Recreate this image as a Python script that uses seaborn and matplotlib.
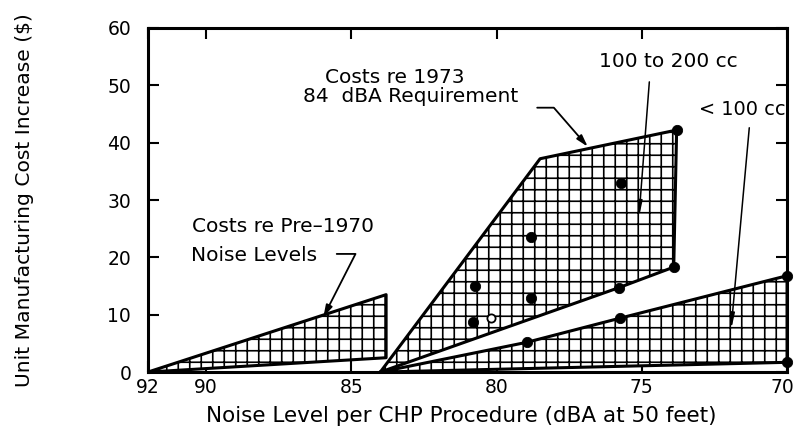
import matplotlib
matplotlib.use("Agg")
import matplotlib.pyplot as plt
import matplotlib.transforms as mtransforms
import pandas as pd
import seaborn as sns

# polygon outlines (noise level dBA, cost $)
pre1970_x = [92, 83.8, 83.8, 92]
pre1970_y = [0, 13.5, 2.5, 0]

cc100_200_x = [84, 78.5, 73.8, 73.9, 75.8, 84]
cc100_200_y = [0, 37.2, 42.2, 18.3, 14.7, 0]

cc100_x = [84, 78.95, 75.75, 70, 70, 84]
cc100_y = [0, 5.2, 9.4, 16.8, 1.7, 0]

# data points
dots_x = [80.75, 80.8, 78.8, 78.8, 75.7, 75.8, 73.9, 73.8, 78.95, 75.75, 70, 70]
dots_y = [15.0, 8.7, 23.6, 12.9, 33.0, 14.7, 18.3, 42.2, 5.2, 9.4, 16.8, 1.7]
open_x = [80.2]
open_y = [9.4]

x_ticks = [92, 90, 85, 80, 75, 70]
y_ticks = [0, 10, 20, 30, 40, 50, 60]

# low dpi so the "+" hatch gets the coarse grid of the original; K rescales sizes
DPI = 69
K = 100 / DPI

sns.set_theme(style="ticks")
plt.rcParams["font.family"] = ["DejaVu Sans"]
plt.rcParams["hatch.linewidth"] = 1.2 * K
plt.rcParams["text.color"] = "black"

fig = plt.figure(figsize=(795 / DPI, 444 / DPI), dpi=DPI)
ax = fig.add_axes([0.186, 0.162, 0.804, 0.775])

for xs, ys in [(pre1970_x, pre1970_y), (cc100_200_x, cc100_200_y), (cc100_x, cc100_y)]:
    ax.fill(xs, ys, facecolor="white", edgecolor="black", hatch="+", linewidth=0)
    outline = pd.DataFrame({"x": xs, "y": ys})
    sns.lineplot(data=outline, x="x", y="y", sort=False, estimator=None,
                 color="black", linewidth=2.2 * K, ax=ax)

sns.scatterplot(x=dots_x, y=dots_y, color="black", s=55 * K * K, edgecolor="black",
                zorder=5, clip_on=False, ax=ax)
sns.scatterplot(x=open_x, y=open_y, facecolor="white", edgecolor="black", s=35 * K * K,
                linewidth=1.3 * K, zorder=5, ax=ax)

ax.set_xlim(92, 70)
ax.set_ylim(0, 60)
ax.set_xticks(x_ticks)
ax.set_yticks(y_ticks)
ax.tick_params(direction="in", length=8 * K, width=1.5 * K, labelsize=13.5 * K,
               colors="black", top=True, right=True)
ax.tick_params(axis="x", pad=4 * K)
ax.tick_params(axis="y", pad=12 * K)
for s in ax.spines.values():
    s.set_linewidth(2.2 * K)
    s.set_color("black")

last = ax.get_xticklabels()[-1]
last.set_transform(last.get_transform()
                   + mtransforms.ScaledTranslation(-5 / DPI, 0, fig.dpi_scale_trans))

ax.set_xlabel("Noise Level per CHP Procedure (dBA at 50 feet)", fontsize=15.5 * K,
              labelpad=3 * K, color="black")
ax.xaxis.set_label_coords(0.49, -0.1)
ax.set_ylabel("Unit Manufacturing Cost Increase ($)", fontsize=14.6 * K,
              labelpad=53 * K, color="black")

fs = 14.5 * K
ax.text(85.89, 51.3, "Costs re 1973", fontsize=fs, va="center", ha="left")
ax.text(86.65, 48.0, "84  dBA Requirement", fontsize=fs, va="center", ha="left")
ax.text(90.47, 25.3, "Costs re Pre\u20131970", fontsize=fs, va="center", ha="left")
ax.text(90.5, 20.4, "Noise Levels", fontsize=fs, va="center", ha="left")
ax.text(76.48, 54.1, "100 to 200 cc", fontsize=fs, va="center", ha="left")
ax.text(73.04, 45.7, "< 100 cc", fontsize=14 * K, va="center", ha="left")

arrow = dict(arrowstyle="-|>,head_width=0.2,head_length=0.7", color="black", lw=1.3 * K,
             shrinkA=0, shrinkB=0, mutation_scale=10 * K)
ax.annotate("", xy=(76.86, 39.3), xytext=(78.6, 46.1),
            arrowprops=dict(arrow, connectionstyle="angle,angleA=0,angleB=131,rad=0"))
ax.annotate("", xy=(85.96, 9.6), xytext=(85.5, 20.6),
            arrowprops=dict(arrow, connectionstyle="angle,angleA=0,angleB=63,rad=0"))
thin = dict(arrowstyle="-|>,head_width=0.12,head_length=0.9", color="black", lw=1.1 * K,
            shrinkA=0, shrinkB=0, mutation_scale=10 * K)
ax.annotate("", xy=(75.1, 26.9), xytext=(74.74, 50.6), arrowprops=thin)
ax.annotate("", xy=(71.93, 7.3), xytext=(71.3, 42.6), arrowprops=thin)

fig.savefig("out.png", dpi=DPI)
